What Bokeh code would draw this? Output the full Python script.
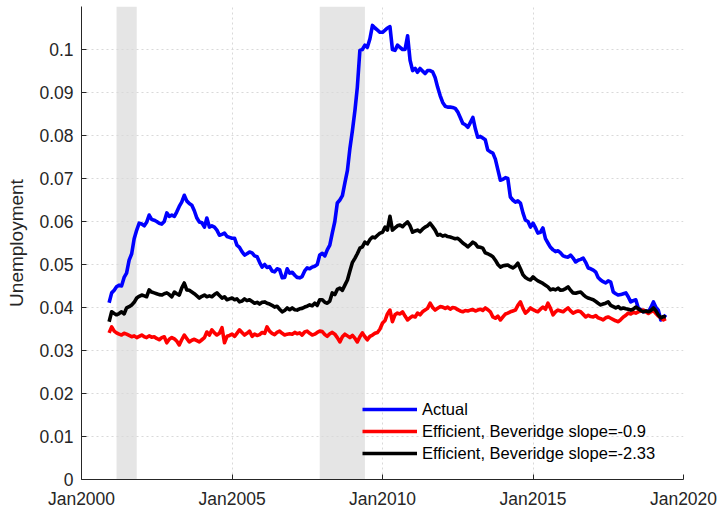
import pandas as pd
from bokeh.plotting import figure
from bokeh.models import (FixedTicker, DatetimeTickFormatter, NumeralTickFormatter,
                          Range1d, Legend, LegendItem, ColumnDataSource)
from bokeh.embed import file_html
from bokeh.resources import INLINE

# ---------------- data ----------------
start_month = "2000-12-01"

actual = [
    0.0411,
    0.0434, 0.0440, 0.0448, 0.0452, 0.0450, 0.0470, 0.0480, 0.0510, 0.0525, 0.0560, 0.0580, 0.0596,
    0.0594, 0.0590, 0.0598, 0.0615, 0.0605, 0.0603, 0.0600, 0.0596, 0.0594, 0.0600, 0.0620, 0.0612,
    0.0615, 0.0612, 0.0622, 0.0635, 0.0645, 0.0661, 0.0648, 0.0642, 0.0638, 0.0625, 0.0608, 0.0599,
    0.0597, 0.0587, 0.0608, 0.0587, 0.0590, 0.0587, 0.0580, 0.0568, 0.0570, 0.0573, 0.0565, 0.0563,
    0.0561, 0.0561, 0.0545, 0.0540, 0.0530, 0.0522, 0.0525, 0.0529, 0.0527, 0.0520, 0.0518, 0.0505,
    0.0494, 0.0500, 0.0493, 0.0495, 0.0485, 0.0483, 0.0490, 0.0488, 0.0469, 0.0470, 0.0490, 0.0480,
    0.0482, 0.0475, 0.0470, 0.0469, 0.0472, 0.0485, 0.0492, 0.0490, 0.0494, 0.0496, 0.0500, 0.0522,
    0.0526, 0.0520, 0.0534, 0.0545, 0.0573, 0.0600, 0.0643, 0.0650, 0.0660, 0.0690, 0.0719, 0.0770,
    0.0812, 0.0860, 0.0912, 0.0998, 0.1000, 0.1010, 0.1005, 0.1025, 0.1056, 0.1050, 0.1045, 0.1040,
    0.1040, 0.1045, 0.1050, 0.1053, 0.1000, 0.0998, 0.1010, 0.1005, 0.1000, 0.1000, 0.1032, 0.0975,
    0.0951, 0.0956, 0.0947, 0.0956, 0.0950, 0.0944, 0.0951, 0.0951, 0.0948, 0.0935, 0.0912, 0.0893,
    0.0877, 0.0868, 0.0866, 0.0866, 0.0865, 0.0863, 0.0855, 0.0842, 0.0828, 0.0825, 0.0819, 0.0830,
    0.0842, 0.0815, 0.0796, 0.0798, 0.0794, 0.0790, 0.0766, 0.0762, 0.0759, 0.0745, 0.0720, 0.0696,
    0.0698, 0.0702, 0.0700, 0.0657, 0.0650, 0.0645, 0.0648, 0.0643, 0.0620, 0.0603, 0.0600, 0.0587,
    0.0596, 0.0585, 0.0573, 0.0575, 0.0585, 0.0560, 0.0550, 0.0540, 0.0534, 0.0530, 0.0532, 0.0527,
    0.0520, 0.0518, 0.0517, 0.0522, 0.0515, 0.0506, 0.0510, 0.0512, 0.0515, 0.0505, 0.0492, 0.0490,
    0.0487, 0.0482, 0.0470, 0.0464, 0.0460, 0.0457, 0.0462, 0.0459, 0.0436, 0.0432, 0.0429, 0.0430,
    0.0432, 0.0434, 0.0425, 0.0413, 0.0416, 0.0418, 0.0399, 0.0395, 0.0390, 0.0392, 0.0390, 0.0400,
    0.0413, 0.0400, 0.0394, 0.0371, 0.0376, 0.0383,
]

efficient_09 = [
    0.0341,
    0.0355, 0.0345, 0.0341, 0.0338, 0.0336, 0.0340, 0.0338, 0.0335, 0.0332, 0.0334, 0.0330, 0.0333,
    0.0336, 0.0332, 0.0330, 0.0334, 0.0331, 0.0332, 0.0328, 0.0325, 0.0330, 0.0332, 0.0318, 0.0326,
    0.0330, 0.0327, 0.0322, 0.0313, 0.0325, 0.0336, 0.0328, 0.0320, 0.0324, 0.0326, 0.0323, 0.0320,
    0.0325, 0.0330, 0.0343, 0.0336, 0.0348, 0.0341, 0.0336, 0.0340, 0.0353, 0.0318, 0.0333, 0.0335,
    0.0338, 0.0333, 0.0340, 0.0348, 0.0342, 0.0336, 0.0340, 0.0345, 0.0333, 0.0338, 0.0335, 0.0337,
    0.0342, 0.0340, 0.0355, 0.0345, 0.0340, 0.0337, 0.0342, 0.0345, 0.0340, 0.0336, 0.0338, 0.0339,
    0.0338, 0.0342, 0.0339, 0.0341, 0.0336, 0.0343, 0.0345, 0.0340, 0.0336, 0.0338, 0.0342, 0.0345,
    0.0344, 0.0337, 0.0333, 0.0339, 0.0342, 0.0338, 0.0330, 0.0320, 0.0332, 0.0338, 0.0334, 0.0330,
    0.0335, 0.0328, 0.0320, 0.0332, 0.0341, 0.0332, 0.0325, 0.0333, 0.0336, 0.0340, 0.0342, 0.0350,
    0.0364, 0.0370, 0.0385, 0.0394, 0.0367, 0.0383, 0.0387, 0.0385, 0.0390, 0.0380, 0.0371, 0.0376,
    0.0380, 0.0378, 0.0387, 0.0383, 0.0390, 0.0394, 0.0398, 0.0410, 0.0400, 0.0394, 0.0398, 0.0402,
    0.0401, 0.0398, 0.0401, 0.0396, 0.0400, 0.0399, 0.0395, 0.0392, 0.0390, 0.0393, 0.0392, 0.0394,
    0.0395, 0.0392, 0.0394, 0.0396, 0.0393, 0.0399, 0.0395, 0.0390, 0.0378, 0.0375, 0.0380, 0.0371,
    0.0378, 0.0385, 0.0387, 0.0390, 0.0392, 0.0394, 0.0405, 0.0413, 0.0398, 0.0387, 0.0392, 0.0399,
    0.0395, 0.0392, 0.0390, 0.0396, 0.0401, 0.0396, 0.0410, 0.0398, 0.0383, 0.0390, 0.0394, 0.0392,
    0.0390, 0.0395, 0.0399, 0.0392, 0.0387, 0.0390, 0.0392, 0.0390, 0.0384, 0.0378, 0.0382, 0.0379,
    0.0378, 0.0381, 0.0376, 0.0374, 0.0371, 0.0376, 0.0378, 0.0375, 0.0372, 0.0369, 0.0367, 0.0372,
    0.0378, 0.0382, 0.0387, 0.0385, 0.0389, 0.0387, 0.0390, 0.0392, 0.0394, 0.0390, 0.0386, 0.0390,
    0.0393, 0.0386, 0.0380, 0.0376, 0.0371, 0.0374,
]

efficient_233 = [
    0.0367,
    0.0390, 0.0386, 0.0383, 0.0386, 0.0390, 0.0385, 0.0399, 0.0402, 0.0406, 0.0412, 0.0422, 0.0426,
    0.0429, 0.0427, 0.0425, 0.0441, 0.0436, 0.0434, 0.0432, 0.0430, 0.0429, 0.0432, 0.0434, 0.0430,
    0.0425, 0.0436, 0.0432, 0.0429, 0.0445, 0.0457, 0.0441, 0.0440, 0.0436, 0.0432, 0.0427, 0.0422,
    0.0426, 0.0429, 0.0425, 0.0427, 0.0425, 0.0430, 0.0434, 0.0428, 0.0422, 0.0425, 0.0418, 0.0420,
    0.0422, 0.0418, 0.0420, 0.0413, 0.0415, 0.0420, 0.0416, 0.0418, 0.0414, 0.0410, 0.0412, 0.0408,
    0.0412, 0.0413, 0.0410, 0.0408, 0.0405, 0.0401, 0.0403, 0.0396, 0.0390, 0.0393, 0.0399, 0.0395,
    0.0399, 0.0395, 0.0394, 0.0397, 0.0398, 0.0401, 0.0403, 0.0406, 0.0404, 0.0410, 0.0405, 0.0418,
    0.0418, 0.0412, 0.0410, 0.0415, 0.0434, 0.0430, 0.0442, 0.0445, 0.0440, 0.0452, 0.0464, 0.0485,
    0.0505, 0.0515, 0.0525, 0.0538, 0.0541, 0.0552, 0.0548, 0.0558, 0.0564, 0.0562, 0.0568, 0.0573,
    0.0575, 0.0587, 0.0580, 0.0612, 0.0580, 0.0585, 0.0590, 0.0592, 0.0588, 0.0594, 0.0599, 0.0590,
    0.0575, 0.0578, 0.0580, 0.0576, 0.0582, 0.0587, 0.0590, 0.0596, 0.0588, 0.0580, 0.0568, 0.0570,
    0.0566, 0.0568, 0.0565, 0.0564, 0.0562, 0.0560, 0.0561, 0.0556, 0.0550, 0.0546, 0.0541, 0.0546,
    0.0552, 0.0548, 0.0541, 0.0540, 0.0538, 0.0527, 0.0525, 0.0522, 0.0518, 0.0510, 0.0500, 0.0494,
    0.0497, 0.0498, 0.0499, 0.0495, 0.0492, 0.0496, 0.0503, 0.0490, 0.0476, 0.0470, 0.0466, 0.0464,
    0.0471, 0.0466, 0.0462, 0.0459, 0.0456, 0.0452, 0.0448, 0.0441, 0.0443, 0.0441, 0.0445, 0.0440,
    0.0441, 0.0444, 0.0448, 0.0440, 0.0434, 0.0433, 0.0435, 0.0436, 0.0430, 0.0425, 0.0422, 0.0420,
    0.0418, 0.0414, 0.0410, 0.0406, 0.0408, 0.0410, 0.0413, 0.0405, 0.0402, 0.0399, 0.0402, 0.0397,
    0.0399, 0.0397, 0.0396, 0.0394, 0.0396, 0.0401, 0.0397, 0.0393, 0.0390, 0.0392, 0.0390, 0.0393,
    0.0399, 0.0392, 0.0383, 0.0376, 0.0379, 0.0378,
]

recession_start = ["2001-03-01", "2007-12-01"]
recession_end = ["2001-11-01", "2009-06-01"]

x_tick_dates = ["2000-01-01", "2005-01-01", "2010-01-01", "2015-01-01", "2020-01-01"]
y_ticks = [0, 0.01, 0.02, 0.03, 0.04, 0.05, 0.06, 0.07, 0.08, 0.09, 0.1]

legend_labels = ["Actual", "Efficient, Beveridge slope=-0.9", "Efficient, Beveridge slope=-2.33"]
series_colors = ["#0000ff", "#ff0000", "#000000"]

# ---------------- build ----------------
assert len(actual) == len(efficient_09) == len(efficient_233)
dates = pd.date_range(start_month, periods=len(actual), freq="MS")

y_top = 0.110
x_lo = pd.Timestamp(x_tick_dates[0])
x_hi = pd.Timestamp(x_tick_dates[-1])

p = figure(width=717, height=511, x_axis_type="datetime",
           x_range=Range1d(x_lo, x_hi), y_range=Range1d(0, y_top),
           output_backend="svg", toolbar_location=None,
           min_border_left=81, min_border_right=34, min_border_top=6, min_border_bottom=31)

p.outline_line_color = None
p.background_fill_color = "white"

# recession shading
rec = ColumnDataSource(dict(left=pd.to_datetime(recession_start), right=pd.to_datetime(recession_end),
                            bottom=[0] * len(recession_start), top=[y_top] * len(recession_start)))
p.quad(left="left", right="right", bottom="bottom", top="top", source=rec,
       fill_color="#e5e5e5", line_color=None, level="underlay")

renderers = []
for vals, col in zip([actual, efficient_09, efficient_233], series_colors):
    r = p.line(dates, vals, line_color=col, line_width=3.6, line_join="round")
    renderers.append(r)

# axes
tick_ms = [pd.Timestamp(d).value / 1e6 for d in x_tick_dates]
p.xaxis.ticker = FixedTicker(ticks=tick_ms)
fmt = "%b%Y"
p.xaxis.formatter = DatetimeTickFormatter(years=fmt, months=fmt, days=fmt, hours=fmt,
                                          minutes=fmt, seconds=fmt, minsec=fmt,
                                          milliseconds=fmt, microseconds=fmt, hourmin=fmt)
p.yaxis.ticker = FixedTicker(ticks=y_ticks)
p.yaxis.formatter = NumeralTickFormatter(format="0.[00]")

for ax in (p.xaxis, p.yaxis):
    ax.major_tick_in = 5
    ax.major_tick_out = 0
    ax.minor_tick_line_color = None
    ax.axis_line_color = "#262626"
    ax.major_tick_line_color = "#262626"
    ax.major_label_text_font = "Liberation Sans"
    ax.major_label_text_font_size = "17.5px"
    ax.major_label_text_color = "#262626"

p.xaxis.major_label_standoff = 9
p.yaxis.major_label_standoff = 8
p.yaxis.axis_label = "Unemployment"
p.yaxis.axis_label_text_font = "Liberation Sans"
p.yaxis.axis_label_text_font_size = "19px"
p.yaxis.axis_label_text_font_style = "normal"
p.yaxis.axis_label_text_color = "#262626"
p.yaxis.axis_label_standoff = 9

p.xgrid.ticker = FixedTicker(ticks=tick_ms)
p.ygrid.ticker = FixedTicker(ticks=y_ticks)
for g in (p.xgrid, p.ygrid):
    g.grid_line_color = "#d9d9d9"
    g.grid_line_dash = "2 3"
    g.grid_line_width = 1

legend = Legend(items=[LegendItem(label=lab, renderers=[r]) for lab, r in zip(legend_labels, renderers)],
                location=(281, 16), border_line_color=None, background_fill_alpha=0,
                padding=0, margin=0, spacing=2, glyph_width=55, glyph_height=20,
                label_standoff=5, label_text_font="Liberation Sans", label_text_font_size="16.5px",
                label_text_color="#000000", label_height=20)
p.add_layout(legend, "center")

open("out.html", "w").write(file_html(p, INLINE))
